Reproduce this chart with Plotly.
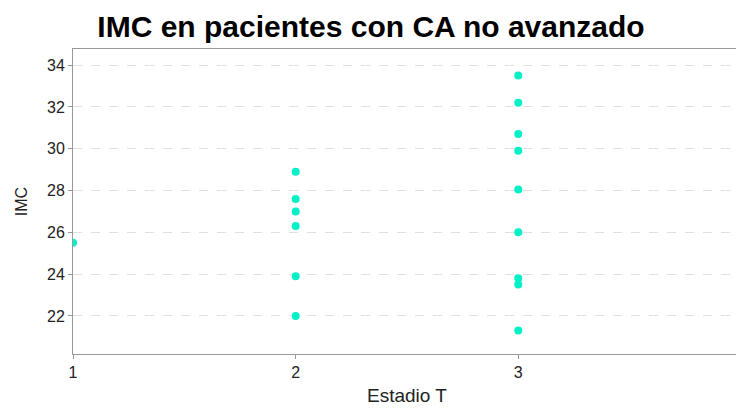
import plotly.graph_objects as go

estadio_t = [1, 2, 2, 2, 2, 2, 2, 3, 3, 3, 3, 3, 3, 3, 3, 3]
imc = [25.5, 28.9, 27.6, 27.0, 26.3, 23.9, 22.0,
       33.5, 32.2, 30.7, 29.9, 28.05, 26.0, 23.8, 23.5, 21.3]
x_ticks = [1, 2, 3, 4]
y_ticks = [22, 24, 26, 28, 30, 32, 34]

fig = go.Figure()
fig.add_trace(go.Scatter(
    x=estadio_t, y=imc, mode="markers",
    marker=dict(color="#00F0C8", size=8, line=dict(width=0)),
    cliponaxis=True, showlegend=False,
))

W, H = 736, 398
fig.update_layout(
    width=W, height=H,
    margin=dict(l=65, r=3, t=41, b=52, autoexpand=False),
    paper_bgcolor="white", plot_bgcolor="white",
    font=dict(family="Liberation Sans, Arial, sans-serif", color="#222"),
    title=dict(text="<b>IMC en pacientes con CA no avanzado</b>",
               xref="container", yref="container",
               x=363 / W, xanchor="center", y=1 - 18 / H, yanchor="middle",
               font=dict(size=30, color="black")),
)
fig.update_xaxes(
    range=[0.9998, 4.0005], tickvals=x_ticks, ticks="outside", ticklen=4,
    tickcolor="#999", showgrid=False, zeroline=False,
    showline=True, linecolor="#999", mirror=True,
    tickfont=dict(size=16), automargin=False, ticklabeloverflow="allow",
    title=dict(text="Estadio T", font=dict(size=19), standoff=11),
)
fig.update_yaxes(
    range=[20.18, 34.77], tickvals=y_ticks, ticks="outside", ticklen=4,
    tickcolor="#999", showgrid=True, gridcolor="#e0e0e0", griddash="dash",
    zeroline=False, showline=True, linecolor="#999", mirror=True,
    tickfont=dict(size=16), automargin=False,
    title=dict(text="IMC", font=dict(size=16), standoff=15),
)

fig.write_html("out.html")
